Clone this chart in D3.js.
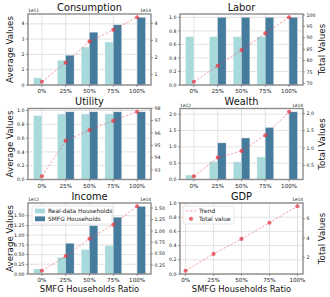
<!DOCTYPE html>
<html>
<head>
<meta charset="utf-8">
<script src="https://cdn.jsdelivr.net/npm/d3@7"></script>
<style>
  body { margin: 0; background: #fff; }
  svg { display: block; }
  text { font-family: "DejaVu Sans", sans-serif; }
</style>
</head>
<body>
<svg id="chart" width="330" height="297"></svg>
<script>
// ---- data ----
var ratios = ["0%", "25%", "50%", "75%", "100%"];

var consumptionReal  = [0.46e11, 1.61e11, 2.48e11, 2.81e11, 0];
var consumptionSmfg  = [0, 1.94e11, 3.45e11, 3.93e11, 4.42e11];
var consumptionTotal = [0.58e13, 1.70e13, 2.94e13, 3.62e13, 4.36e13];
var consumptionLeftTicks  = ["0", "1", "2", "3", "4"];
var consumptionRightTicks = ["1", "2", "3", "4"];

var laborReal  = [0.715, 0.715, 0.715, 0.715, 0];
var laborSmfg  = [0, 1.0, 1.0, 1.0, 1.0];
var laborTotal = [70.7, 77.7, 84.6, 91.9, 99.0];
var laborLeftTicks  = ["0.0", "0.2", "0.4", "0.6", "0.8", "1.0"];
var laborRightTicks = ["70", "75", "80", "85", "90", "95", "100"];

var utilityReal  = [0.926, 0.95, 0.95, 0.95, 0];
var utilitySmfg  = [0, 0.98, 0.98, 0.98, 0.98];
var utilityTotal = [92.48, 95.38, 96.23, 96.98, 97.72];
var utilityLeftTicks  = ["0.0", "0.2", "0.4", "0.6", "0.8", "1.0"];
var utilityRightTicks = ["93", "94", "95", "96", "97", "98"];

var wealthReal  = [0.135e12, 0.55e12, 0.54e12, 0.69e12, 0];
var wealthSmfg  = [0, 1.12e12, 1.27e12, 1.59e12, 2.07e12];
var wealthTotal = [0.19e14, 0.73e14, 0.92e14, 1.37e14, 2.05e14];
var wealthLeftTicks  = ["0.0", "0.5", "1.0", "1.5", "2.0"];
var wealthRightTicks = ["0.5", "1.0", "1.5", "2.0"];

var incomeReal  = [0.13e12, 0.43e12, 0.63e12, 0.73e12, 0];
var incomeSmfg  = [0, 0.79e12, 1.24e12, 1.46e12, 1.74e12];
var incomeTotal = [0.13e14, 0.45e14, 0.83e14, 1.14e14, 1.54e14];
var incomeLeftTicks  = ["0.00", "0.25", "0.50", "0.75", "1.00", "1.25", "1.50"];
var incomeRightTicks = ["0.25", "0.50", "0.75", "1.00", "1.25", "1.50"];

var gdpTotal = [0.61e14, 2.35e14, 3.91e14, 5.58e14, 7.29e14];
var gdpLeftTicks  = ["0.0", "0.2", "0.4", "0.6", "0.8", "1.0"];
var gdpRightTicks = ["2", "4", "6"];

var barLabels  = ["Real-data  Households", "SMFG Households"];
var lineLabels = ["Trend", "Total value"];

// ---- look ----
var cReal = "#A8DADC", cSmfg = "#457B9D", cLine = "#E63946";
var colX = [28, 180], panelW = 123;
var rowY = [14, 108.5, 203], panelH = 71;
var barW = 0.35;

var panels = [
    {title: "Consumption", real: consumptionReal, smfg: consumptionSmfg, total: consumptionTotal, lt: consumptionLeftTicks, rt: consumptionRightTicks, col: 0, row: 0},
    {title: "Labor",   real: laborReal,   smfg: laborSmfg,   total: laborTotal,   lt: laborLeftTicks,   rt: laborRightTicks,   col: 1, row: 0},
    {title: "Utility", real: utilityReal, smfg: utilitySmfg, total: utilityTotal, lt: utilityLeftTicks, rt: utilityRightTicks, col: 0, row: 1},
    {title: "Wealth",  real: wealthReal,  smfg: wealthSmfg,  total: wealthTotal,  lt: wealthLeftTicks,  rt: wealthRightTicks,  col: 1, row: 1},
    {title: "Income",  real: incomeReal,  smfg: incomeSmfg,  total: incomeTotal,  lt: incomeLeftTicks,  rt: incomeRightTicks,  col: 0, row: 2, barLegend: true},
    {title: "GDP",     real: null,        smfg: null,        total: gdpTotal,     lt: gdpLeftTicks,     rt: gdpRightTicks,     col: 1, row: 2, lineLegend: true}
];

var svg = d3.select("svg#chart");

function expOf(vals) {
    var m = d3.max(vals);
    return m >= 1e4 ? Math.floor(Math.log10(m)) : 0;
}

panels.forEach(function(p) {
    var x0 = colX[p.col], y0 = rowY[p.row];
    var g = svg.append("g").attr("transform", "translate(" + x0 + "," + y0 + ")");
    var hasBars = p.real !== null;

    // x: category index, matplotlib style margins
    var x = hasBars
        ? d3.scaleLinear().domain([-barW - 0.235, 4 + barW + 0.235]).range([0, panelW])
        : d3.scaleLinear().domain([-0.2, 4.2]).range([0, panelW]);

    var lExp = hasBars ? expOf(p.real.concat(p.smfg)) : 0;
    var rExp = expOf(p.total);
    var lMax = hasBars ? d3.max(p.real.concat(p.smfg)) * 1.05 : 1;
    var yL = d3.scaleLinear().domain([0, lMax]).range([panelH, 0]);
    var tMin = d3.min(p.total), tMax = d3.max(p.total), pad = (tMax - tMin) * 0.05;
    var yR = d3.scaleLinear().domain([tMin - pad, tMax + pad]).range([panelH, 0]);

    var lVals = p.lt.map(function(s) { return +s * Math.pow(10, lExp); });
    var rVals = p.rt.map(function(s) { return +s * Math.pow(10, rExp); });

    // grid
    g.selectAll("line.gx").data(ratios).enter().append("line")
        .attr("x1", function(d, i) { return x(i); }).attr("x2", function(d, i) { return x(i); })
        .attr("y1", 0).attr("y2", panelH)
        .style("stroke", "#dcdcdc").style("stroke-width", 0.8);
    g.selectAll("line.gy").data(lVals).enter().append("line")
        .attr("x1", 0).attr("x2", panelW)
        .attr("y1", function(d) { return yL(d); }).attr("y2", function(d) { return yL(d); })
        .style("stroke", "#dcdcdc").style("stroke-width", 0.8);

    // bars
    if (hasBars) {
        g.selectAll("rect.real").data(p.real).enter().append("rect")
            .attr("x", function(d, i) { return x(i - barW); })
            .attr("width", x(barW) - x(0))
            .attr("y", function(d) { return yL(d); })
            .attr("height", function(d) { return panelH - yL(d); })
            .style("fill", cReal).style("stroke", "#e8f4f5").style("stroke-width", 0.4);
        g.selectAll("rect.smfg").data(p.smfg).enter().append("rect")
            .attr("x", function(d, i) { return x(i); })
            .attr("width", x(barW) - x(0))
            .attr("y", function(d) { return yL(d); })
            .attr("height", function(d) { return panelH - yL(d); })
            .style("fill", cSmfg).style("stroke", "#c9d7e0").style("stroke-width", 0.4);
    }

    // total value line
    var line = d3.line().x(function(d, i) { return x(i); }).y(function(d) { return yR(d); });
    g.append("path").datum(p.total).attr("d", line)
        .style("fill", "none").style("stroke", cLine).style("stroke-opacity", 0.5)
        .style("stroke-width", 0.9).style("stroke-dasharray", "2.5,1.5");
    g.selectAll("circle.pt").data(p.total).enter().append("circle")
        .attr("cx", function(d, i) { return x(i); })
        .attr("cy", function(d) { return yR(d); })
        .attr("r", 2.1)
        .style("fill", cLine).style("fill-opacity", 0.75);

    // spines
    g.append("rect").attr("width", panelW).attr("height", panelH)
        .style("fill", "none").style("stroke", "#8c8c8c").style("stroke-width", 1.4);

    // ticks
    var fTick = 5.6;
    g.selectAll("g.xt").data(ratios).enter().append("g")
        .attr("transform", function(d, i) { return "translate(" + x(i) + "," + panelH + ")"; })
        .each(function(d) {
            var t = d3.select(this);
            t.append("line").attr("y1", 0).attr("y2", 2).style("stroke", "#555").style("stroke-width", 0.6);
            t.append("text").attr("y", 8.4).attr("text-anchor", "middle")
                .style("font-size", fTick + "px").style("fill", "#222").text(d);
        });
    g.selectAll("g.lt").data(lVals).enter().append("g")
        .attr("transform", function(d) { return "translate(0," + yL(d) + ")"; })
        .each(function(d, i) {
            var t = d3.select(this);
            t.append("line").attr("x1", 0).attr("x2", -2).style("stroke", "#555").style("stroke-width", 0.6);
            t.append("text").attr("x", -3.5).attr("dy", "0.35em").attr("text-anchor", "end")
                .style("font-size", "4.7px").style("fill", "#222").text(p.lt[i]);
        });
    g.selectAll("g.rt").data(rVals).enter().append("g")
        .attr("transform", function(d) { return "translate(" + panelW + "," + yR(d) + ")"; })
        .each(function(d, i) {
            var t = d3.select(this);
            t.append("line").attr("x1", 0).attr("x2", 2).style("stroke", "#555").style("stroke-width", 0.6);
            t.append("text").attr("x", 3.5).attr("dy", "0.35em").attr("text-anchor", "start")
                .style("font-size", "4.7px").style("fill", "#222").text(p.rt[i]);
        });

    // offset texts
    if (lExp) g.append("text").attr("x", 0).attr("y", -2).style("font-size", "4.4px").style("fill", "#222").text("1e" + lExp);
    if (rExp) g.append("text").attr("x", panelW).attr("y", -2).attr("text-anchor", "end")
        .style("font-size", "4.4px").style("fill", "#222").text("1e" + rExp);

    // title
    g.append("text").attr("x", panelW / 2).attr("y", -3.5).attr("text-anchor", "middle")
        .style("font-size", "9.8px").style("fill", "#111").text(p.title);

    // legends
    if (p.barLegend) {
        var lg = g.append("g").attr("transform", "translate(4,3)");
        lg.append("rect").attr("width", 80).attr("height", 18).attr("rx", 1.5)
            .style("fill", "#fff").style("fill-opacity", 0.8).style("stroke", "#ccc").style("stroke-width", 0.5);
        [cReal, cSmfg].forEach(function(c, i) {
            lg.append("rect").attr("x", 3).attr("y", 2.6 + i * 7.8).attr("width", 10).attr("height", 4.8).style("fill", c);
            lg.append("text").attr("x", 16).attr("y", 5 + i * 7.8).attr("dy", "0.35em")
                .style("font-size", "5.9px").style("fill", "#222").text(barLabels[i]);
        });
    }
    if (p.lineLegend) {
        var lg2 = g.append("g").attr("transform", "translate(3,3)");
        lg2.append("rect").attr("width", 51).attr("height", 18).attr("rx", 1.5)
            .style("fill", "#fff").style("fill-opacity", 0.8).style("stroke", "#ccc").style("stroke-width", 0.5);
        lg2.append("line").attr("x1", 3).attr("x2", 13).attr("y1", 5).attr("y2", 5)
            .style("stroke", cLine).style("stroke-opacity", 0.5).style("stroke-width", 0.9).style("stroke-dasharray", "2.5,1.5");
        lg2.append("circle").attr("cx", 8).attr("cy", 12.8).attr("r", 2.1).style("fill", cLine).style("fill-opacity", 0.75);
        lineLabels.forEach(function(s, i) {
            lg2.append("text").attr("x", 16).attr("y", 5 + i * 7.8).attr("dy", "0.35em")
                .style("font-size", "5.9px").style("fill", "#222").text(s);
        });
    }
});

// axis labels
rowY.forEach(function(y) {
    svg.append("text").attr("transform", "translate(10," + (y + panelH / 2) + ") rotate(-90)")
        .attr("text-anchor", "middle").attr("dy", "0.35em")
        .style("font-size", "8.7px").style("fill", "#111").text("Average Values");
    svg.append("text").attr("transform", "translate(322," + (y + panelH / 2) + ") rotate(-90)")
        .attr("text-anchor", "middle").attr("dy", "0.35em")
        .style("font-size", "8.7px").style("fill", "#111").text("Total Values");
});
colX.forEach(function(x) {
    svg.append("text").attr("x", x + panelW / 2).attr("y", 292)
        .attr("text-anchor", "middle")
        .style("font-size", "8.4px").style("fill", "#111").text("SMFG Households Ratio");
});
</script>
</body>
</html>
